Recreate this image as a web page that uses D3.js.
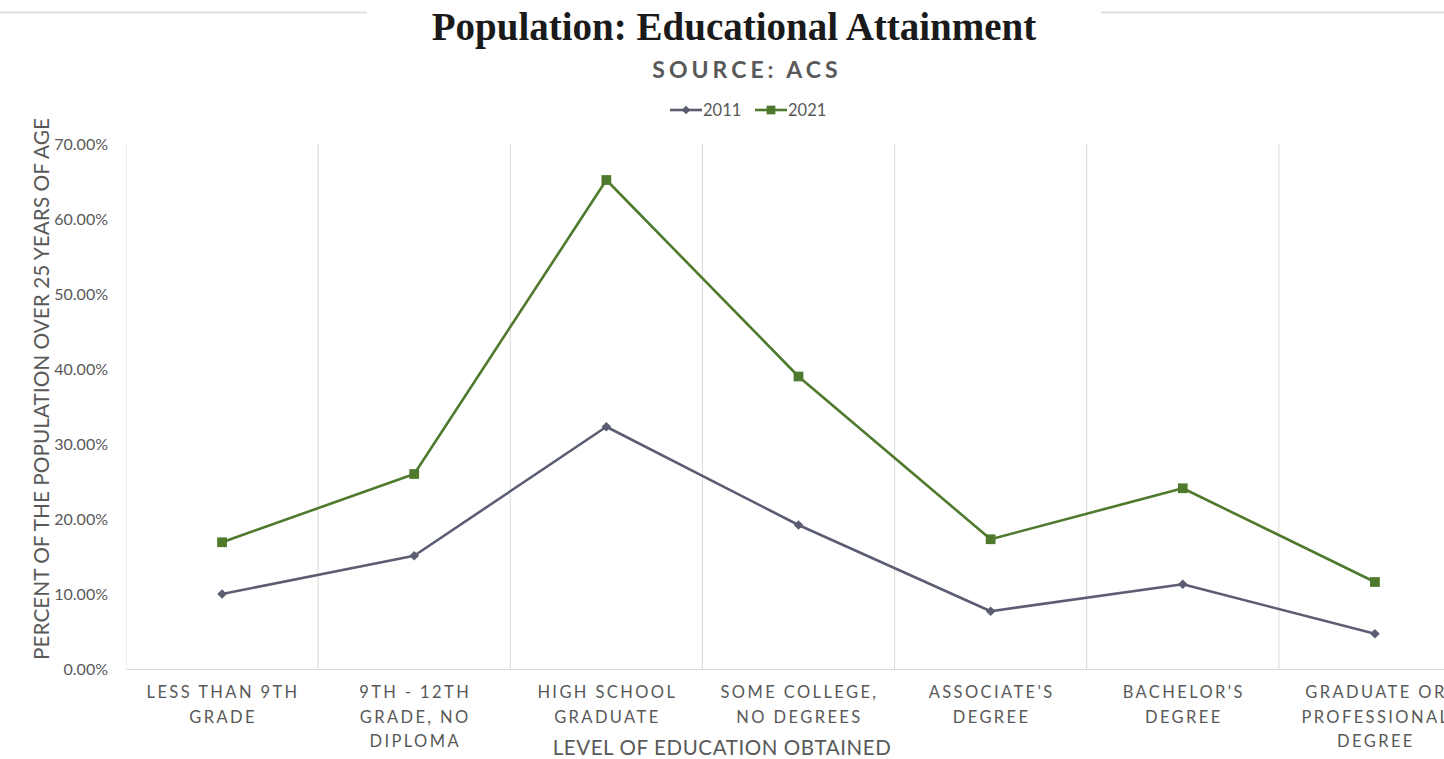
<!DOCTYPE html>
<html>
<head>
<meta charset="utf-8">
<script src="https://cdn.jsdelivr.net/npm/d3@7"></script>
<style>
  html, body { margin: 0; padding: 0; background: #fff; overflow: hidden; }
  svg { display: block; }
</style>
</head>
<body>
<svg id="chart" width="1444" height="759"></svg>
<script>
// Educational attainment, population 25+, ACS
const categories = [
  ["LESS THAN 9TH", "GRADE"],
  ["9TH - 12TH", "GRADE, NO", "DIPLOMA"],
  ["HIGH SCHOOL", "GRADUATE"],
  ["SOME COLLEGE,", "NO DEGREES"],
  ["ASSOCIATE'S", "DEGREE"],
  ["BACHELOR'S", "DEGREE"],
  ["GRADUATE OR", "PROFESSIONAL", "DEGREE"]
];
const values2011 = [10.0, 15.1, 32.3, 19.2, 7.7, 11.3, 4.7];
const values2021 = [16.9, 26.0, 65.2, 39.0, 17.3, 24.1, 11.6];
const yTicks = [0, 10, 20, 30, 40, 50, 60, 70];

const svg = d3.select("#chart");
const font = "Lato, 'Open Sans', sans-serif";
const textGray = "#595959";
const gridGray = "#d9d9d9";
const c2011 = "#5b5e73";
const c2021 = "#4f7a2e";

const plotLeft = 126, plotRight = 1471, plotTop = 144, plotBottom = 669;

const x = d3.scaleBand().domain(d3.range(categories.length)).range([plotLeft, plotRight]).padding(0);
const y = d3.scaleLinear().domain([0, 70]).range([plotBottom, plotTop]);

// Title rules
svg.append("line").attr("x1", 0).attr("x2", 367).attr("y1", 12.5).attr("y2", 12.5)
  .attr("stroke", "#e0e0e0").attr("stroke-width", 2);
svg.append("line").attr("x1", 1101).attr("x2", 1444).attr("y1", 12.5).attr("y2", 12.5)
  .attr("stroke", "#e0e0e0").attr("stroke-width", 2);

svg.append("text").attr("x", 734).attr("y", 40).attr("text-anchor", "middle")
  .attr("font-family", "'Liberation Serif', 'DejaVu Serif', serif").attr("font-weight", "bold")
  .attr("font-size", 39).attr("fill", "#1a1a1a").text("Population: Educational Attainment");

svg.append("text").attr("x", 747).attr("y", 78).attr("text-anchor", "middle")
  .attr("font-family", font).attr("font-weight", "bold").attr("font-size", 23)
  .attr("letter-spacing", 4).attr("fill", textGray).text("SOURCE: ACS");

// Vertical category separators
const grid = svg.append("g");
grid.selectAll("line.v").data(d3.range(1, categories.length)).join("line")
  .attr("x1", d => x(d)).attr("x2", d => x(d))
  .attr("y1", plotTop).attr("y2", plotBottom)
  .attr("stroke", gridGray).attr("stroke-width", 1);
grid.append("line").attr("x1", plotLeft + 0.5).attr("x2", plotLeft + 0.5).attr("y1", plotTop).attr("y2", plotBottom)
  .attr("stroke", "#ececec");

// Baseline axis
const xAxis = d3.axisBottom(x).tickSize(0).tickFormat("");
const gx = svg.append("g").attr("transform", `translate(0,${plotBottom})`).call(xAxis);
gx.select(".domain").attr("stroke", gridGray).attr("stroke-width", 1.2);

// X category labels
const cx = i => x(i) + x.bandwidth() / 2;
const xl = svg.append("g").attr("font-family", font).attr("font-size", 16.5)
  .attr("fill", textGray).attr("letter-spacing", 2.4).attr("text-anchor", "middle");
categories.forEach((lines, i) => {
  const t = xl.append("text").attr("x", cx(i) + 1).attr("y", 698);
  lines.forEach((ln, k) => t.append("tspan").attr("x", cx(i) + 1).attr("dy", k === 0 ? 0 : 24.5).text(ln));
});

// Y axis tick labels
const yAxis = d3.axisLeft(y).tickValues(yTicks).tickSize(0).tickPadding(18)
  .tickFormat(d => d.toFixed(2) + "%");
const gy = svg.append("g").attr("transform", `translate(${plotLeft},0)`).call(yAxis);
gy.select(".domain").remove();
gy.selectAll("text").attr("font-family", font).attr("font-size", 16).attr("fill", textGray);

// Axis titles
svg.append("text").attr("transform", `translate(49,389) rotate(-90)`)
  .attr("text-anchor", "middle").attr("font-family", font).attr("font-size", 20.8)
  .attr("fill", textGray).text("PERCENT OF THE POPULATION OVER 25 YEARS OF AGE");
svg.append("text").attr("x", 722).attr("y", 755).attr("text-anchor", "middle")
  .attr("font-family", font).attr("font-size", 20.5).attr("letter-spacing", 0.6).attr("fill", textGray)
  .text("LEVEL OF EDUCATION OBTAINED");

// Series
const series = [
  { name: "2011", values: values2011, color: c2011, symbol: d3.symbolDiamond2, size: 60 },
  { name: "2021", values: values2021, color: c2021, symbol: d3.symbolSquare, size: 95 }
];
const line = d3.line().x((d, i) => cx(i)).y(d => y(d));
series.forEach(s => {
  svg.append("path").datum(s.values).attr("d", line)
    .attr("fill", "none").attr("stroke", s.color).attr("stroke-width", 2.6)
    .attr("stroke-linejoin", "round");
  svg.append("g").selectAll("path").data(s.values).join("path")
    .attr("transform", (d, i) => `translate(${cx(i)},${y(d)})`)
    .attr("d", d3.symbol(s.symbol, s.size)).attr("fill", s.color);
});

// Legend
const lg = svg.append("g").attr("font-family", font).attr("font-size", 16.5).attr("fill", textGray);
const legendItems = [{ s: series[0], x: 670 }, { s: series[1], x: 755 }];
legendItems.forEach(({ s, x: lx }) => {
  lg.append("line").attr("x1", lx).attr("x2", lx + 32).attr("y1", 110).attr("y2", 110)
    .attr("stroke", s.color).attr("stroke-width", 2.6);
  lg.append("path").attr("transform", `translate(${lx + 16},110)`)
    .attr("d", d3.symbol(s.symbol, s.size * 0.8)).attr("fill", s.color);
  lg.append("text").attr("x", lx + 33).attr("y", 116).text(s.name);
});
</script>
</body>
</html>
